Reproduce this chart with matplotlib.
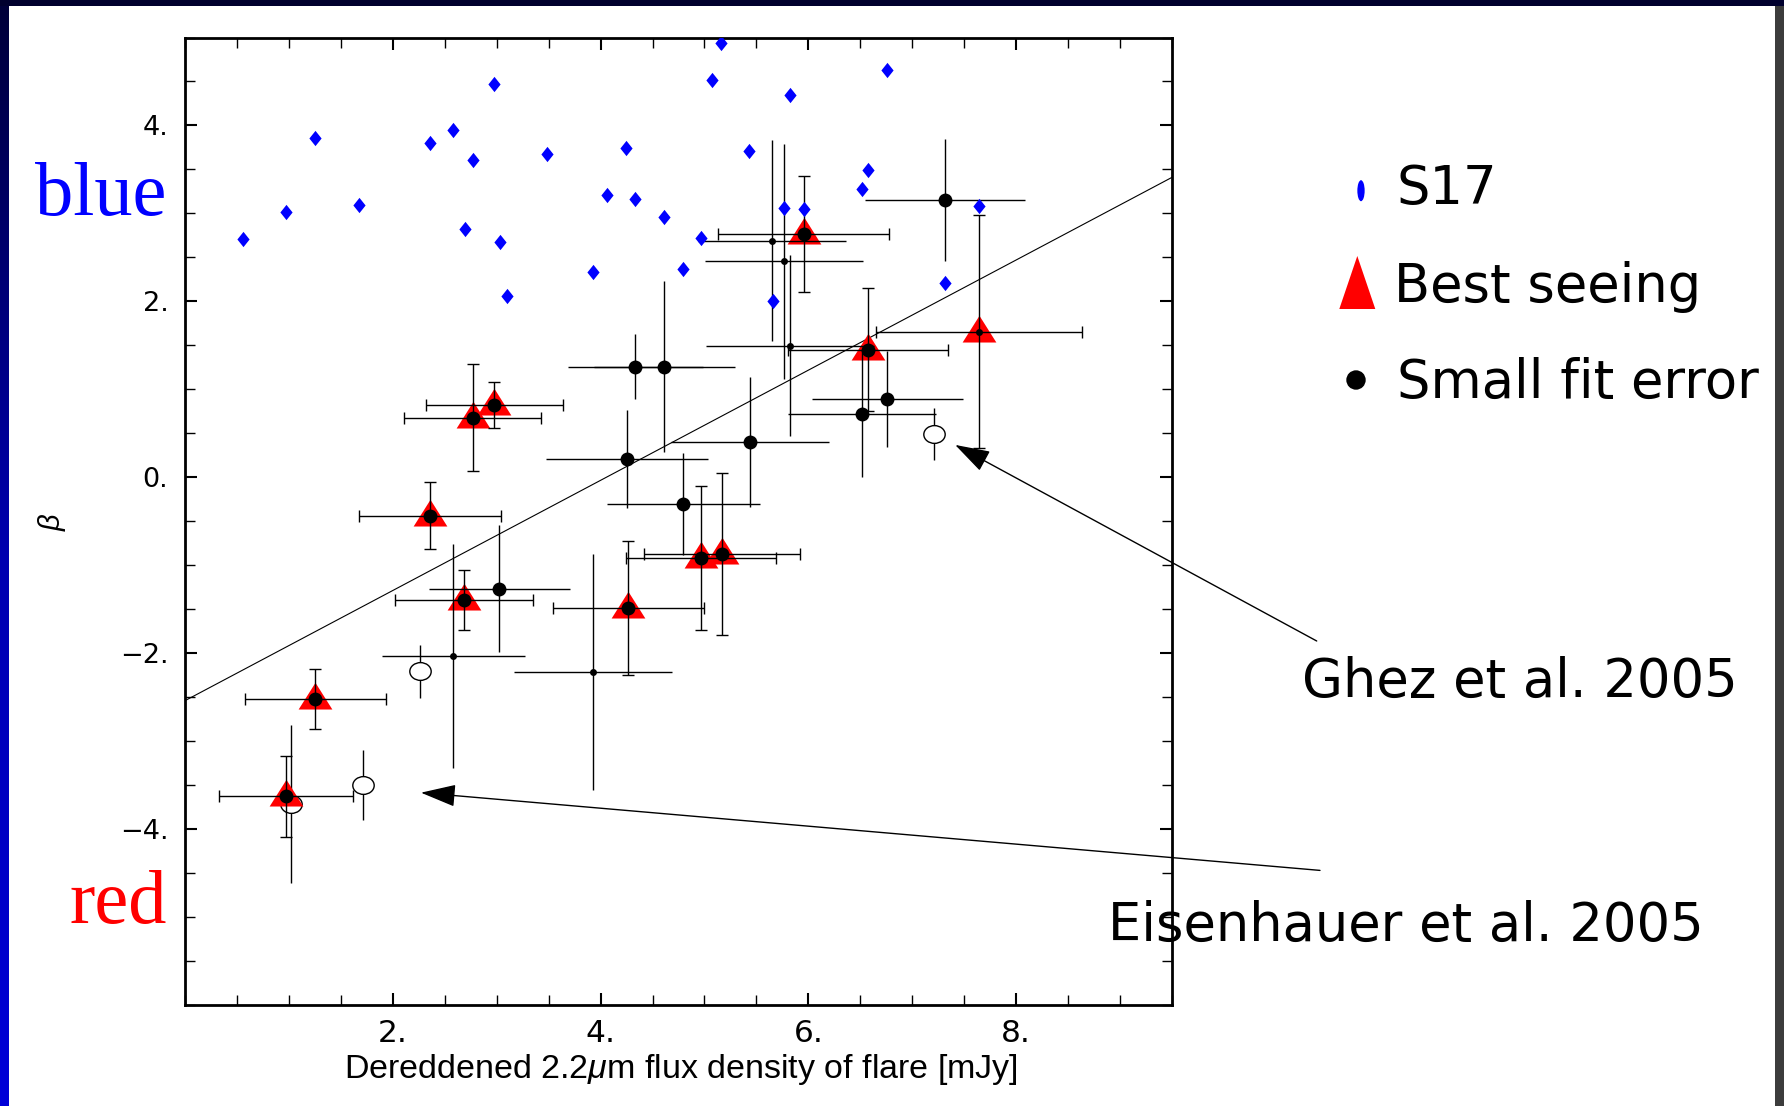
import numpy as np
import matplotlib
matplotlib.use('Agg')
import matplotlib.pyplot as plt
from matplotlib.path import Path
from matplotlib.transforms import Affine2D
from matplotlib.patches import Rectangle, Ellipse, Polygon, Circle
from matplotlib.ticker import MultipleLocator
from matplotlib.colors import LinearSegmentedColormap
from matplotlib import font_manager

# ---------------- data ----------------
# S17 comparison star (blue diamonds)
s17_x = [0.558, 0.974, 1.254, 1.671, 2.359, 2.580, 2.691, 2.768, 2.978, 3.030,
         3.096, 3.486, 3.925, 4.065, 4.249, 4.334, 4.614, 4.798, 4.967, 5.070,
         5.163, 5.427, 5.823, 6.761, 6.572, 6.515, 5.765, 5.954, 7.642, 7.315,
         5.657]
s17_y = [2.713, 3.017, 3.854, 3.092, 3.797, 3.953, 2.826, 3.608, 4.466, 2.670,
         2.064, 3.672, 2.334, 3.205, 3.745, 3.168, 2.955, 2.363, 2.721, 4.515,
         4.932, 3.714, 4.348, 4.625, 3.490, 3.274, 3.057, 3.051, 3.080, 2.208,
         2.007]

# flares with error bars
flare_x = [0.974, 1.254, 2.359, 2.683, 2.768, 2.978, 4.268, 4.967, 5.166, 5.954,
           6.572, 7.642,
           3.026, 4.252, 4.334, 4.614, 4.798, 5.441, 6.518, 6.761, 7.311,
           2.584, 3.929, 5.653, 5.768, 5.826]
flare_y = [-3.629, -2.524, -0.438, -1.394, 0.678, 0.820, -1.489, -0.916, -0.870, 2.766,
           1.452, 1.657,
           -1.266, 0.205, 1.259, 1.259, -0.305, 0.402, 0.724, 0.888, 3.153,
           -2.030, -2.214, 2.690, 2.454, 1.498]
flare_xerr = [0.645, 0.676, 0.68, 0.665, 0.66, 0.66, 0.73, 0.72, 0.75, 0.82,
              0.77, 0.99,
              0.675, 0.78, 0.65, 0.68, 0.74, 0.76, 0.71, 0.73, 0.77,
              0.69, 0.76, 0.714, 0.76, 0.81]
flare_yerr = [0.46, 0.34, 0.38, 0.34, 0.61, 0.26, 0.76, 0.82, 0.92, 0.665,
              0.70, 1.32,
              0.72, 0.555, 0.365, 0.97, 0.58, 0.74, 0.72, 0.545, 0.69,
              1.27, 1.34, 1.14, 1.335, 1.03]
flare_best_seeing = [True] * 12 + [False] * 14
flare_small_fit = [True] * 11 + [False] + [True] * 9 + [False] * 5

# literature flares (open circles; Ghez et al. 2005, Eisenhauer et al. 2005)
lit_x = [2.26, 1.715, 1.018, 7.21]
lit_y = [-2.206, -3.50, -3.715, 0.493]
lit_yerr = [0.30, 0.40, 0.90, 0.30]

# linear fit
fit_x = [0.0, 9.5]
fit_y = [-2.54, 3.41]

x_ticks = [2, 4, 6, 8]
x_tick_labels = ['2.', '4.', '6.', '8.']
y_ticks = [-4, -2, 0, 2, 4]
y_tick_labels = ['\u22124.', '\u22122.', '0.', '2.', '4.']

legend_labels = ['S17', 'Best seeing', 'Small fit error']
ref_labels = ['Ghez et al. 2005', 'Eisenhauer et al. 2005']
ref_arrow_tips = [(7.413, 0.368), (2.271, -3.586)]


def pick(*names):
    for n in names:
        try:
            font_manager.findfont(n, fallback_to_default=False)
            return n
        except Exception:
            pass
    return 'DejaVu Sans'


SANS = pick('Liberation Sans', 'DejaVu Sans')
SERIF = pick('Liberation Serif', 'DejaVu Serif')
SLIDE = 'DejaVu Sans'
TICK = 'DejaVu Sans'

plt.rcParams['mathtext.fontset'] = 'custom'
plt.rcParams['mathtext.rm'] = SANS
plt.rcParams['mathtext.it'] = SANS + ':italic'
plt.rcParams['font.family'] = [SANS, 'DejaVu Sans']

W, H = 1784, 1106
fig = plt.figure(figsize=(W / 100, H / 100), dpi=100)
fig.patch.set_facecolor('white')

# main axes
ax_l, ax_r, ax_t, ax_b = 185, 1172, 37.5, 1005
ax = fig.add_axes([ax_l / W, (H - ax_b) / H, (ax_r - ax_l) / W, (ax_b - ax_t) / H])
ax.set_xlim(0, 9.5)
ax.set_ylim(-6, 5)

# markers
tri = Path([(0, 1.0), (-1.01, -0.6), (1.01, -0.6), (0, 1.0)],
           [Path.MOVETO, Path.LINETO, Path.LINETO, Path.CLOSEPOLY])
diam = Path([(0, 1), (0.8, 0), (0, -1), (-0.8, 0), (0, 1)],
            [Path.MOVETO, Path.LINETO, Path.LINETO, Path.LINETO, Path.CLOSEPOLY])
oval = Affine2D().scale(1.0, 0.83).transform_path(Path.unit_circle())

fx = np.array(flare_x); fy = np.array(flare_y)
fxe = np.array(flare_xerr); fye = np.array(flare_yerr)
bs = np.array(flare_best_seeing); sf = np.array(flare_small_fit)

# fit line
ax.plot(fit_x, fit_y, color='black', lw=0.8, zorder=1.5)

# literature points
ax.errorbar(lit_x, lit_y, yerr=lit_yerr, fmt='none', ecolor='black',
            elinewidth=1.0, capsize=0, zorder=2)
ax.plot(lit_x, lit_y, linestyle='none', marker=oval, ms=15.4, mfc='white',
        mec='black', mew=1.0, zorder=2.5)

# triangles (best seeing)
ax.plot(fx[bs], fy[bs], linestyle='none', marker=tri, ms=24.3, color='red',
        mec='none', zorder=3)

# error bars
ax.errorbar(fx[bs], fy[bs], xerr=fxe[bs], yerr=fye[bs], fmt='none',
            ecolor='black', elinewidth=1.0, capsize=4.5, capthick=1.0, zorder=3.5)
ax.errorbar(fx[~bs], fy[~bs], xerr=fxe[~bs], yerr=fye[~bs], fmt='none',
            ecolor='black', elinewidth=1.0, capsize=0, zorder=3.5)

# dots
ax.plot(fx[sf], fy[sf], linestyle='none', marker='o', ms=10, color='black',
        mec='none', zorder=4)
ax.plot(fx[~sf], fy[~sf], linestyle='none', marker='o', ms=5, color='black',
        mec='none', zorder=4)

# S17 diamonds
ax.plot(s17_x, s17_y, linestyle='none', marker=diam, ms=11, color='#0000ff',
        mec='none', zorder=5)

# axes styling
for sp in ax.spines.values():
    sp.set_linewidth(2.0)
ax.set_xticks(x_ticks)
ax.set_xticklabels(x_tick_labels)
ax.set_yticks(y_ticks)
ax.set_yticklabels(y_tick_labels)
ax.xaxis.set_minor_locator(MultipleLocator(0.5))
ax.yaxis.set_minor_locator(MultipleLocator(0.5))
ax.tick_params(which='both', direction='in', top=True, right=True)
ax.tick_params(which='major', length=8.5, width=1.5)
ax.tick_params(which='minor', length=7, width=1.0)
ax.tick_params(axis='x', which='major', pad=10, labelsize=22.5,
               labelfontfamily=TICK)
ax.tick_params(axis='y', which='major', pad=12, labelsize=19.5,
               labelfontfamily=TICK)

# overlay in pixel coordinates
ov = fig.add_axes([0, 0, 1, 1])
ov.axis('off')

# slide frame
ov.add_patch(Rectangle((0, 0), W, 6, color='#00002e', lw=0, zorder=0))
ov.add_patch(Rectangle((1775, 6), 9, H - 6, color='#3c3c3c', lw=0, zorder=0))
grad = np.linspace(0, 1, 256).reshape(-1, 1)
cm = LinearSegmentedColormap.from_list('strip', ['#00003a', '#0000b0', '#0000d8'])
ov.imshow(grad, cmap=cm, extent=(0, 9, H, 6), aspect='auto', zorder=0)
ov.set_xlim(0, W)
ov.set_ylim(H, 0)

# axis labels
ov.text(681, 1077.7, 'Dereddened 2.2$\\mu$m flux density of flare [mJy]',
        fontsize=24.5, family=SANS, ha='center', va='baseline')
ov.text(52, 521.7, '$\\beta$', fontsize=21, rotation=90, ha='center', va='center')

# blue / red side labels
ov.text(166, 215, 'blue', fontsize=55, family=SERIF, color='#0000ff',
        ha='right', va='baseline')
ov.text(167, 922.7, 'red', fontsize=55, family=SERIF, color='#ff0000',
        ha='right', va='baseline')

# legend
ov.add_patch(Ellipse((1361, 190.7), 7.3, 21, color='#0000ff', lw=0))
ov.add_patch(Polygon([(1357.3, 256), (1339.3, 309), (1375.3, 309)],
                     closed=True, color='#ff0000', lw=0))
ov.add_patch(Circle((1356, 380), 9.7, color='black', lw=0))
ov.text(1397, 204.3, legend_labels[0], fontsize=38, family=SLIDE, va='baseline')
ov.text(1394, 301.7, legend_labels[1], fontsize=38, family=SLIDE, va='baseline')
ov.text(1397, 398.3, legend_labels[2], fontsize=38, family=SLIDE, va='baseline')

# reference annotations
ov.text(1302, 696.7, ref_labels[0], fontsize=38, family=SLIDE, va='baseline')
ov.text(1108, 941, ref_labels[1], fontsize=38, family=SLIDE, va='baseline')
arrow_props = dict(arrowstyle='-|>,head_length=2.2,head_width=0.7',
                   mutation_scale=10, lw=1.0, color='black',
                   shrinkA=0, shrinkB=0)
ov.annotate('', xy=ref_arrow_tips[0], xycoords=ax.transData,
            xytext=(1316.7, 641), textcoords='data', arrowprops=arrow_props)
ov.annotate('', xy=ref_arrow_tips[1], xycoords=ax.transData,
            xytext=(1320, 870.4), textcoords='data', arrowprops=arrow_props)

fig.savefig('out.png', dpi=100)
